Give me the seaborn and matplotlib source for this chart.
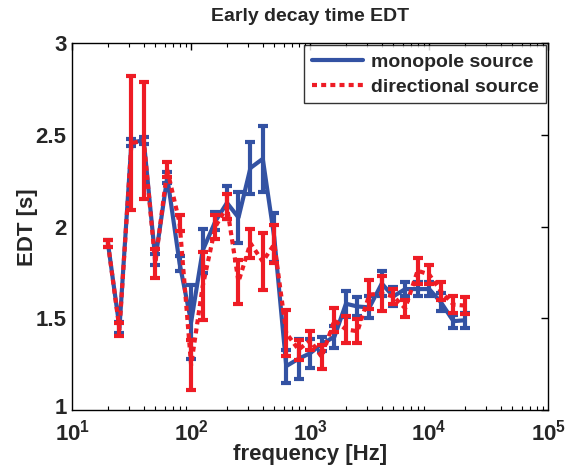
import numpy as np
import pandas as pd
import seaborn as sns
import matplotlib
matplotlib.use("Agg")
import matplotlib.pyplot as plt
import matplotlib.transforms as mtransforms
from matplotlib.lines import Line2D
from matplotlib.ticker import FixedLocator, NullFormatter

freq = [20, 25, 31.5, 40, 50, 63, 80, 100, 125, 160, 200, 250, 315, 400, 500,
        630, 800, 1000, 1250, 1600, 2000, 2500, 3150, 4000, 5000, 6300, 8000,
        10000, 12500, 16000, 20000]
mono_edt = [1.91, 1.45, 2.46, 2.47, 1.82, 2.27, 1.80, 1.48, 1.87, 2.03, 2.13, 2.05,
            2.32, 2.37, 1.94, 1.24, 1.28, 1.31, 1.36, 1.40, 1.58, 1.565, 1.56, 1.69,
            1.62, 1.66, 1.66, 1.66, 1.59, 1.485, 1.49]
mono_err = [0.02, 0.03, 0.02, 0.02, 0.03, 0.03, 0.04, 0.20, 0.12, 0.05, 0.09, 0.14,
            0.14, 0.18, 0.135, 0.09, 0.11, 0.08, 0.04, 0.06, 0.07, 0.05, 0.06, 0.07,
            0.05, 0.04, 0.04, 0.04, 0.05, 0.035, 0.04]
dir_edt = [1.91, 1.44, 2.455, 2.47, 1.80, 2.31, 2.02, 1.245, 1.675, 2.00, 2.11, 1.70,
           1.91, 1.81, 1.905, 1.42, 1.33, 1.38, 1.29, 1.49, 1.44, 1.43, 1.63, 1.635,
           1.62, 1.555, 1.76, 1.74, 1.65, 1.575, 1.57]
dir_err = [0.02, 0.035, 0.365, 0.32, 0.08, 0.04, 0.045, 0.135, 0.185, 0.065, 0.07, 0.12,
           0.08, 0.155, 0.105, 0.125, 0.055, 0.05, 0.065, 0.065, 0.075, 0.065, 0.08, 0.095,
           0.04, 0.045, 0.07, 0.05, 0.05, 0.045, 0.045]
series_names = ["monopole source", "directional source"]
x_ticks = [10, 100, 1000, 10000, 100000]
x_tick_labels = [r"$\mathbf{10^{1}}$", r"$\mathbf{10^{2}}$", r"$\mathbf{10^{3}}$",
                 r"$\mathbf{10^{4}}$", r"$\mathbf{10^{5}}$"]
y_ticks = [1, 1.5, 2, 2.5, 3]
y_tick_labels = ["1", "1.5", "2", "2.5", "3"]

sns.set_theme(style="white")
plt.rcParams["font.family"] = ["Liberation Sans", "DejaVu Sans"]
plt.rcParams["font.weight"] = "bold"
plt.rcParams["mathtext.fontset"] = "custom"
plt.rcParams["mathtext.rm"] = "Liberation Sans:bold"
plt.rcParams["mathtext.bf"] = "Liberation Sans:bold"
plt.rcParams["mathtext.it"] = "Liberation Sans:bold"

blue = "#3352a3"
red = "#ee1c25"

fig = plt.figure(figsize=(5.68, 4.65), dpi=100)
ax = fig.add_axes([0.127, 0.118, 0.838, 0.789])

df_m = pd.DataFrame({"freq": freq, "edt": mono_edt})
df_d = pd.DataFrame({"freq": freq, "edt": dir_edt})

lw = 3.0
sns.lineplot(data=df_m, x="freq", y="edt", ax=ax, color=blue, linewidth=lw,
             legend=False, zorder=2)
ax.errorbar(freq, mono_edt, yerr=mono_err, fmt="none", ecolor=blue,
            elinewidth=lw, capsize=3.5, capthick=lw, zorder=2)
sns.lineplot(data=df_d, x="freq", y="edt", ax=ax, color=red, linewidth=lw,
             legend=False, zorder=3)
ax.lines[-1].set_dashes((1.2, 1.0))
ax.lines[-1].set_dash_capstyle("butt")
ax.errorbar(freq, dir_edt, yerr=dir_err, fmt="none", ecolor=red,
            elinewidth=lw, capsize=3.5, capthick=lw, zorder=3)

ax.set_xscale("log")
ax.set_xlim(10, 100000)
ax.set_ylim(1, 3)
ax.xaxis.set_major_locator(FixedLocator(x_ticks))
ax.set_xticklabels(x_tick_labels)
minors = [m * 10 ** e for e in range(1, 5) for m in range(2, 10)]
ax.xaxis.set_minor_locator(FixedLocator(minors))
ax.xaxis.set_minor_formatter(NullFormatter())
ax.set_yticks(y_ticks)
ax.set_yticklabels(y_tick_labels)

ax.tick_params(axis="both", which="major", direction="in", length=5, width=1,
               labelsize=16, top=True, right=True, color="black", pad=4)
ax.tick_params(axis="x", which="major", pad=7)
ax.tick_params(axis="x", which="minor", direction="in", length=3, width=0.8,
               top=True, bottom=True, color="black")
for lab in ax.get_xticklabels() + ax.get_yticklabels():
    lab.set_fontweight("bold")
# nudge the lowest y label up a little so it clears the 10^1 label
first = ax.get_yticklabels()[0]
first.set_transform(first.get_transform() +
                    mtransforms.ScaledTranslation(0, 4 / 100, fig.dpi_scale_trans))
for sp in ax.spines.values():
    sp.set_color("black")
    sp.set_linewidth(1.0)

ax.set_xlabel("frequency [Hz]", fontsize=16, fontweight="bold", labelpad=-1)
ax.set_ylabel("EDT [s]", fontsize=16, fontweight="bold", labelpad=-2)
ax.set_title("Early decay time EDT", fontsize=14, fontweight="bold", pad=16)

handles = [Line2D([], [], color=blue, linewidth=lw),
           Line2D([], [], color=red, linewidth=lw, dashes=(1.2, 1.0), dash_capstyle="butt")]
leg = ax.legend(handles, series_names, loc="upper right", fontsize=14,
                frameon=True, fancybox=False, edgecolor="black",
                borderaxespad=0.1, handlelength=2.6, handletextpad=0.4,
                borderpad=0.4, labelspacing=0.38)
leg.get_frame().set_linewidth(1.0)
for t in leg.get_texts():
    t.set_fontweight("bold")

fig.savefig("out.png", dpi=100)
